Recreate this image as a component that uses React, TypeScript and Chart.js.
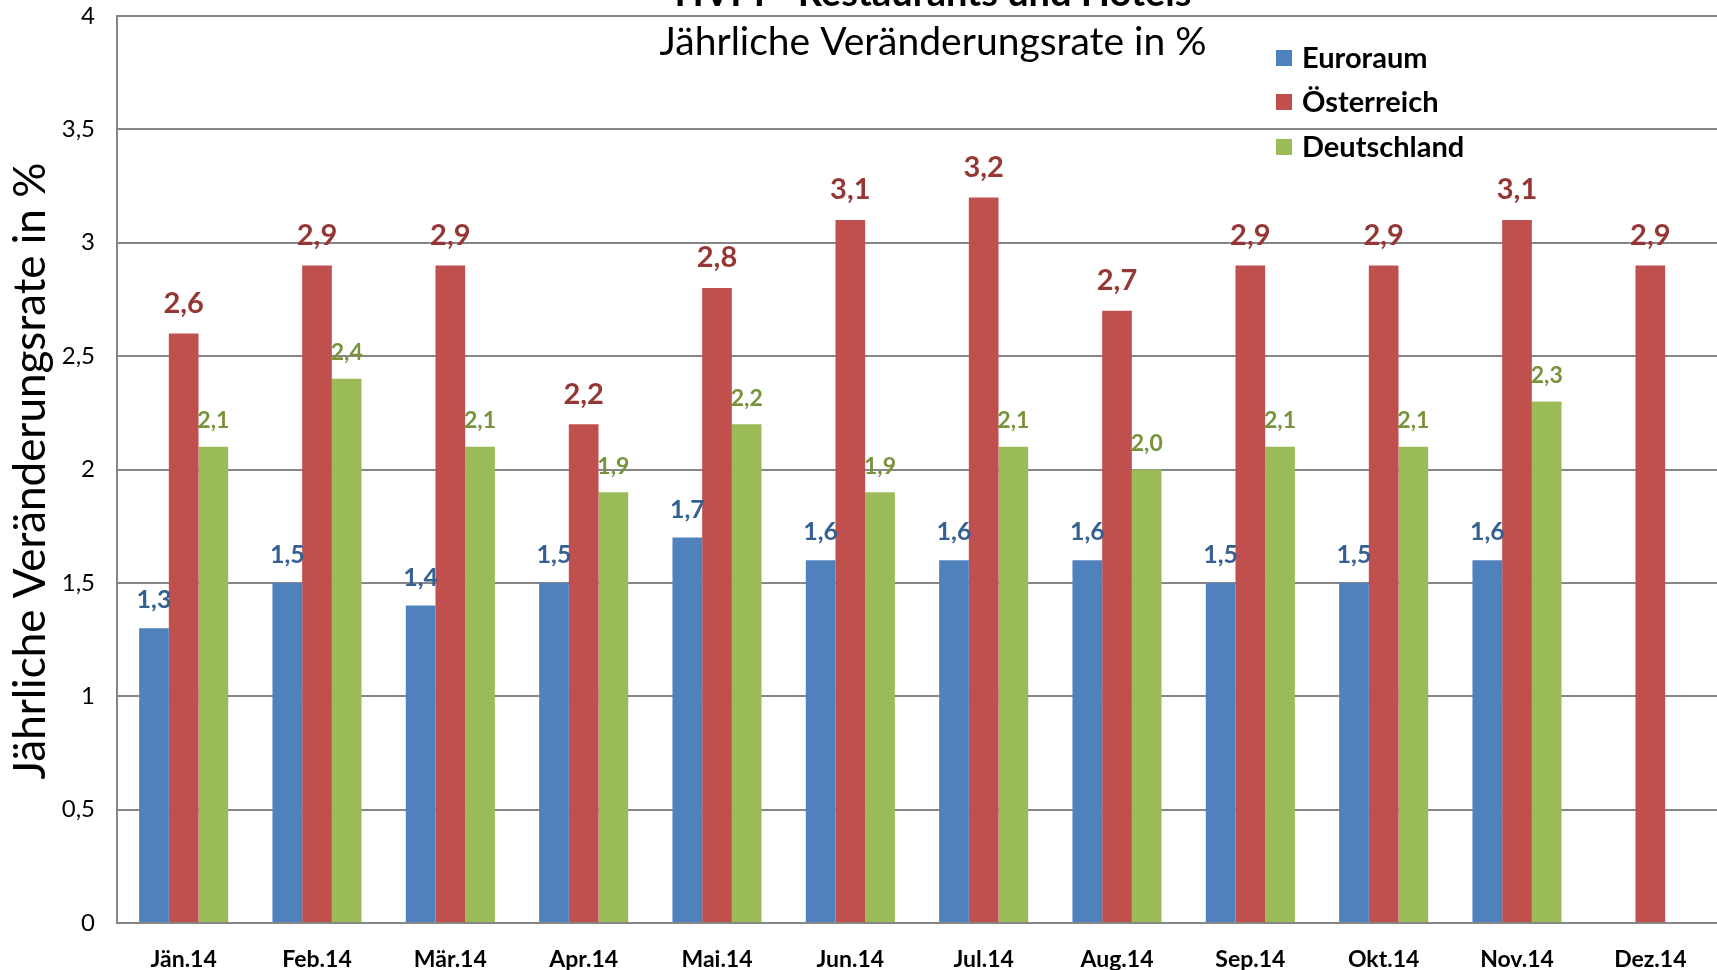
import React, { useEffect, useRef } from "react";
import { Chart, registerables } from "chart.js";

Chart.register(...registerables);

const categories = ["Jän.14", "Feb.14", "Mär.14", "Apr.14", "Mai.14", "Jun.14", "Jul.14", "Aug.14", "Sep.14", "Okt.14", "Nov.14", "Dez.14"];
const euroraum = [1.3, 1.5, 1.4, 1.5, 1.7, 1.6, 1.6, 1.6, 1.5, 1.5, 1.6, null];
const oesterreich = [2.6, 2.9, 2.9, 2.2, 2.8, 3.1, 3.2, 2.7, 2.9, 2.9, 3.1, 2.9];
const deutschland = [2.1, 2.4, 2.1, 1.9, 2.2, 1.9, 2.1, 2.0, 2.1, 2.1, 2.3, null];
const seriesNames = ["Euroraum", "Österreich", "Deutschland"];
const titleText = "HVPI - Restaurants und Hotels";
const subtitleText = "Jährliche Veränderungsrate in %";
const yAxisTitle = "Jährliche Veränderungsrate in %";

const FONT = "Lato, 'Open Sans', sans-serif";
const barColors = ["#4F81BD", "#C0504D", "#9BBB59"];
const labelColors = ["#376092", "#953735", "#77933C"];
const labelSizes = [25, 29, 23];
const labelOffsets = [28, 30, 26];

const fmt = (v: number) => v.toFixed(1).replace(".", ",");

const decorPlugin = {
  id: "decor",
  afterDatasetsDraw(chart: any) {
    const ctx = chart.ctx;
    ctx.save();
    ctx.textAlign = "center";
    ctx.textBaseline = "middle";
    chart.data.datasets.forEach((ds: any, i: number) => {
      const meta = chart.getDatasetMeta(i);
      ctx.font = `bold ${labelSizes[i]}px ${FONT}`;
      ctx.fillStyle = labelColors[i];
      meta.data.forEach((bar: any, j: number) => {
        const v = ds.data[j];
        if (v == null) return;
        ctx.fillText(fmt(v), bar.x, bar.y - labelOffsets[i]);
      });
    });
    ctx.restore();
  },
  afterDraw(chart: any) {
    const ctx = chart.ctx;
    ctx.save();
    ctx.fillStyle = "#000";
    ctx.textAlign = "center";
    ctx.textBaseline = "alphabetic";
    ctx.font = `bold 38px ${FONT}`;
    ctx.fillText(titleText, 933, 6);
    ctx.font = `39px ${FONT}`;
    ctx.textBaseline = "middle";
    ctx.fillText(subtitleText, 933, 42);
    ctx.save();
    ctx.translate(31, 471);
    ctx.rotate(-Math.PI / 2);
    ctx.font = `44px ${FONT}`;
    ctx.fillText(yAxisTitle, 0, 0);
    ctx.restore();
    const rows = [58, 102, 147];
    ctx.textAlign = "left";
    ctx.font = `bold 29px ${FONT}`;
    seriesNames.forEach((name, i) => {
      ctx.fillStyle = barColors[i];
      ctx.fillRect(1276, rows[i] - 8, 16, 16);
      ctx.fillStyle = "#000";
      ctx.fillText(name, 1302, rows[i] + 1);
    });
    ctx.restore();
  },
};

export default function App() {
  const ref = useRef<HTMLCanvasElement | null>(null);
  useEffect(() => {
    if (!ref.current) return;
    const chart = new Chart(ref.current, {
      type: "bar",
      data: {
        labels: categories,
        datasets: [
          { label: seriesNames[0], data: euroraum, backgroundColor: barColors[0] },
          { label: seriesNames[1], data: oesterreich, backgroundColor: barColors[1] },
          { label: seriesNames[2], data: deutschland, backgroundColor: barColors[2] },
        ] as any,
      },
      options: {
        animation: false,
        responsive: true,
        maintainAspectRatio: false,
        datasets: { bar: { categoryPercentage: 0.668, barPercentage: 1 } },
        layout: { padding: { top: 16, left: 0, right: 0, bottom: 0 } },
        plugins: {
          legend: { display: false },
          title: { display: false },
          tooltip: { enabled: false },
        },
        scales: {
          x: {
            grid: { display: false, drawTicks: false },
            border: { display: true, color: "#868686", width: 2 },
            ticks: { color: "#000", font: { family: FONT, size: 23, weight: "bold" }, padding: 23, maxRotation: 0, autoSkip: false },
            afterFit(scale: any) {
              scale.height = 47;
              scale.paddingLeft = 0;
              scale.paddingRight = 0;
            },
          },
          y: {
            min: 0,
            max: 4,
            ticks: {
              stepSize: 0.5,
              color: "#000",
              padding: 22,
              font: { family: FONT, size: 24 },
              callback: (v: any) => String(v).replace(".", ","),
            },
            grid: { color: "#868686", lineWidth: 2, drawTicks: false },
            border: { display: true, color: "#868686", width: 2 },
            afterFit(scale: any) {
              scale.width = 117;
              scale.paddingTop = 0;
              scale.paddingBottom = 0;
            },
          },
        },
      } as any,
      plugins: [decorPlugin],
    });
    return () => chart.destroy();
  }, []);
  return (
    <div style={{ position: "fixed", left: 0, top: 0, width: "1717px", height: "970px", background: "#fff" }}>
      <canvas ref={ref} />
    </div>
  );
}
